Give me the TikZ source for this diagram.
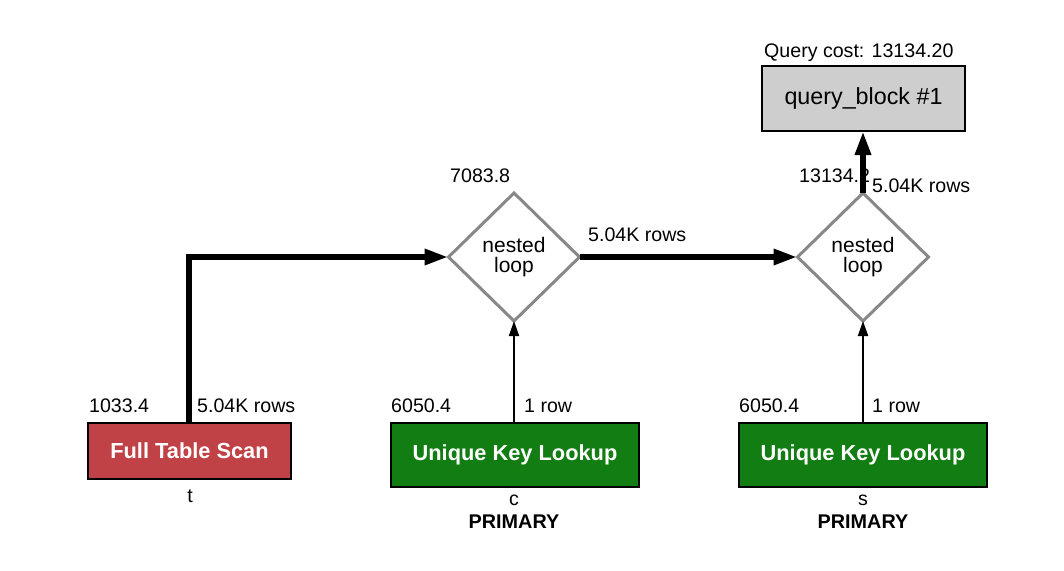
\documentclass[tikz,border=0pt]{standalone}
\usepackage{fontspec}
\setmainfont{Liberation Sans}
\usetikzlibrary{shapes.geometric,arrows.meta}
\definecolor{scanred}{RGB}{192,66,70}
\definecolor{keygreen}{RGB}{18,125,18}
\definecolor{blockgray}{RGB}{206,206,206}
\definecolor{loopgray}{RGB}{136,136,136}
\tikzset{
  lbl/.style={anchor=base west, inner sep=0pt, font=\fontsize{19.6}{21}\selectfont},
  subl/.style={anchor=base, inner sep=0pt, font=\fontsize{19.6}{21}\selectfont},
  subb/.style={anchor=base, inner sep=0pt, font=\fontsize{19.8}{21}\selectfont\bfseries},
  opbox/.style={draw=black, line width=2pt, rectangle, inner sep=0pt, outer sep=0pt, text=white, font=\fontsize{21.8}{24}\selectfont\bfseries},
  loopnode/.style={draw=loopgray, line width=3pt, diamond, inner sep=0pt, outer sep=0pt, minimum width=131pt, minimum height=128pt, align=center, font=\fontsize{21}{20.5}\selectfont},
  thickarr/.style={line width=6pt, line join=miter, -{Triangle[length=24pt,width=15pt]}},
  thinarr/.style={line width=2pt, -{Triangle[length=15pt,width=10pt]}}
}
\begin{document}
\begin{tikzpicture}[x=1pt,y=-1pt]
\useasboundingbox (0,0) rectangle (1064,570);
% nodes
\node[opbox, fill=blockgray, text=black, font=\fontsize{23.3}{25}\selectfont, minimum width=203pt, minimum height=65pt] (qb) at (863.5,98.5) {query\_block \#1};
\node[lbl] (qcost) at (764,57) {Query cost: 13134.20};
\node[loopnode] (nl1) at (514,257) {nested\\loop};
\node[loopnode] (nl2) at (863,257) {nested\\loop};
\node[opbox, fill=scanred, minimum width=203pt, minimum height=56pt] (fts) at (189.5,451) {Full Table Scan};
\node[opbox, fill=keygreen, minimum width=248pt, minimum height=64pt] (ukl1) at (515,455) {Unique Key Lookup};
\node[opbox, fill=keygreen, minimum width=248pt, minimum height=64pt] (ukl2) at (863,455) {Unique Key Lookup};
% labels
\node[lbl] (c1) at (89,412) {1033.4};
\node[lbl] (r1) at (197,412) {5.04K rows};
\node[lbl] (c2) at (391,412) {6050.4};
\node[lbl] (r2) at (524,412) {1 row};
\node[lbl] (c3) at (739,412) {6050.4};
\node[lbl] (r3) at (872,412) {1 row};
\node[lbl] (c4) at (450,182) {7083.8};
\node[lbl] (r4) at (588,241) {5.04K rows};
\node[lbl] (c5) at (799,182) {13134.2};
\node[lbl] (r5) at (872,192) {5.04K rows};
\node[subl] (tt) at (190,502) {t};
\node[subl] (tc) at (514,505) {c};
\node[subb] (pc) at (514,528) {PRIMARY};
\node[subl] (ts) at (863,505) {s};
\node[subb] (ps) at (863,528) {PRIMARY};
% connectors
\draw[thickarr] (fts.north -| 189,0) |- (nl1.west);
\draw[thickarr] (nl1.east) -- (nl2.west);
\draw[thickarr] (nl2.north) -- (qb.south -| nl2.north);
\draw[thinarr] (ukl1.north -| nl1.south) -- (nl1.south);
\draw[thinarr] (ukl2.north) -- (nl2.south);
\end{tikzpicture}
\end{document}
